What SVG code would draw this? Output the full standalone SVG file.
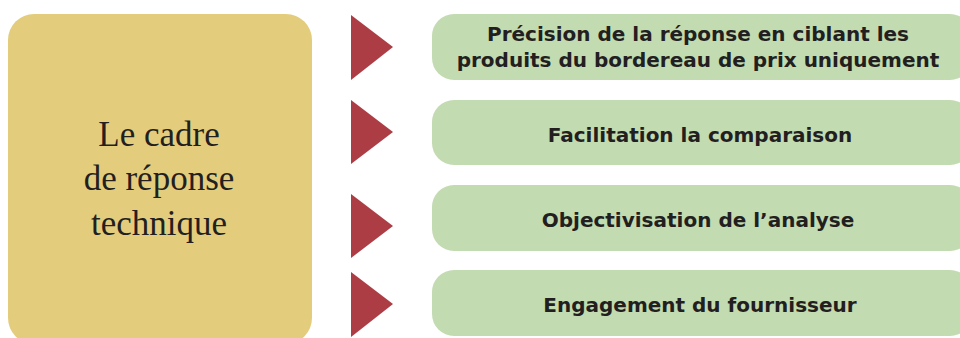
<svg xmlns="http://www.w3.org/2000/svg" width="960" height="338" viewBox="0 0 960 338">
<style>
.main{fill:#E3CD7C}
.item{fill:#C2DBB0}
.tri{fill:#AC3D45}
.lt{font-family:"Liberation Serif","DejaVu Serif",serif;font-size:35px;fill:#231F20;text-anchor:middle}
.rt{font-family:"DejaVu Sans","Noto Sans",sans-serif;font-weight:bold;font-size:20px;fill:#231F20;text-anchor:middle}
</style>
<rect width="960" height="338" fill="#fff"/>
<g id="main">
<rect class="main" x="8" y="14" width="304" height="330" rx="26"/>
<text class="lt" x="159" y="146">Le cadre</text>
<text class="lt" x="159" y="190">de réponse</text>
<text class="lt" x="159" y="235">technique</text>
</g>
<g id="connectors">
<polygon class="tri" points="351,15 393,47 351,80"/>
<polygon class="tri" points="351,100 393,132 351,164"/>
<polygon class="tri" points="351,194 393,226 351,258"/>
<polygon class="tri" points="351,272 393,304 351,337"/>
</g>
<g id="item1">
<rect class="item" x="432" y="14" width="540" height="66" rx="22"/>
<text class="rt" x="698" y="41">Précision de la réponse en ciblant les</text>
<text class="rt" x="698" y="67">produits du bordereau de prix uniquement</text>
</g>
<g id="item2">
<rect class="item" x="432" y="100" width="540" height="65" rx="22"/>
<text class="rt" x="700" y="142">Facilitation la comparaison</text>
</g>
<g id="item3">
<rect class="item" x="432" y="185" width="540" height="66" rx="22"/>
<text class="rt" x="698" y="227">Objectivisation de l’analyse</text>
</g>
<g id="item4">
<rect class="item" x="432" y="270" width="540" height="66" rx="22"/>
<text class="rt" x="700" y="312">Engagement du fournisseur</text>
</g>
</svg>
